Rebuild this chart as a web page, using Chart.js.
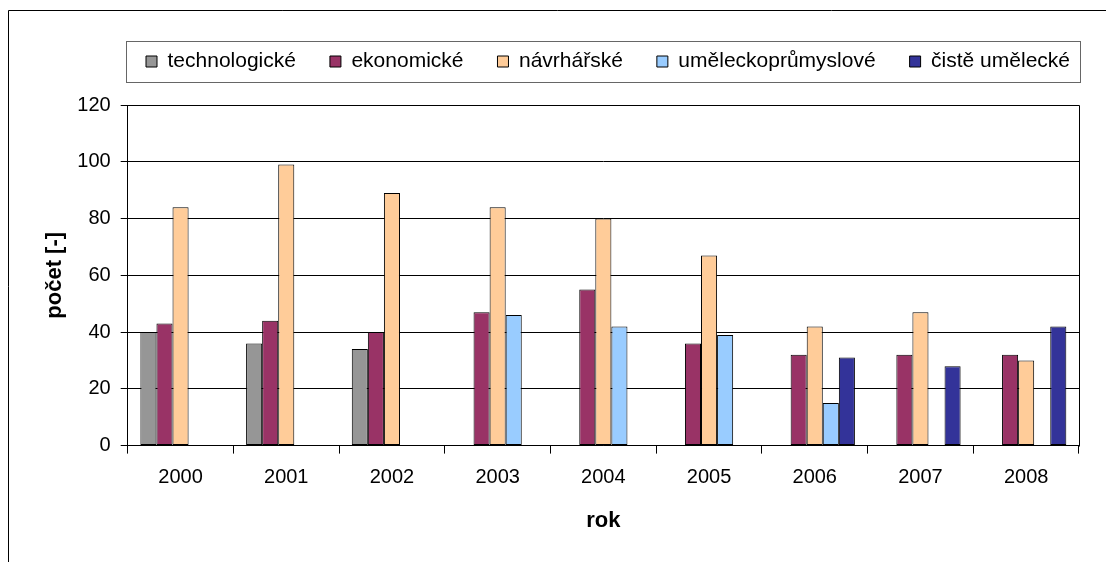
<!DOCTYPE html>
<html>
<head>
<meta charset="utf-8">
<script src="https://cdn.jsdelivr.net/npm/chart.js@4/dist/chart.umd.min.js"></script>
<style>
  html, body { margin: 0; padding: 0; background: #fff; }
  #wrap { width: 1106px; height: 562px; }
</style>
</head>
<body>
<div id="wrap"><canvas id="c" width="1106" height="562" style="width:1106px;height:562px"></canvas></div>
<script>
const years = ['2000','2001','2002','2003','2004','2005','2006','2007','2008'];
const technologicke = [40, 36, 34, null, null, null, null, null, null];
const ekonomicke = [43, 44, 40, 47, 55, 36, 32, 32, 32];
const navrharske = [84, 99, 89, 84, 80, 67, 42, 47, 30];
const umeleckoprumyslove = [null, null, null, 46, 42, 39, 15, null, null];
const ciste = [null, null, null, null, null, null, 31, 28, 42];
const yTicks = [0, 20, 40, 60, 80, 100, 120];

const FONT = "'Liberation Sans', Arial, sans-serif";

const framePlugin = {
  id: 'frame',
  afterInit(chart) {
    const lg = chart.legend;
    const origFit = lg.fit;
    lg.fit = function () { origFit.call(this); this.height += 23; };
  },
  afterLayout(chart) {
    const lg = chart.legend;
    lg.left = 110;
    lg.right = chart.width;
    lg.width = lg.right - lg.left;
  },
  beforeDraw(chart) {
    const ctx = chart.ctx;
    ctx.save();
    ctx.fillStyle = '#fff';
    ctx.fillRect(0, 0, chart.width, chart.height);
    ctx.restore();
  },
  afterDraw(chart) {
    const ctx = chart.ctx;
    const a = chart.chartArea;
    ctx.save();
    ctx.strokeStyle = '#000';
    ctx.lineWidth = 1;
    // outer frame
    ctx.beginPath();
    ctx.moveTo(8.5, chart.height);
    ctx.lineTo(8.5, 10.5);
    ctx.lineTo(chart.width, 10.5);
    ctx.stroke();
    // plot border right + top
    ctx.beginPath();
    ctx.moveTo(Math.round(a.left) + 0.5, Math.round(a.top) + 0.5);
    ctx.lineTo(Math.round(a.right) + 0.5, Math.round(a.top) + 0.5);
    ctx.lineTo(Math.round(a.right) + 0.5, Math.round(a.bottom) + 0.5);
    ctx.stroke();
    // legend box
    const hb = chart.legend.legendHitBoxes;
    if (hb && hb.length) {
      const cy = hb[0].top + hb[0].height / 2;
      ctx.strokeStyle = '#666';
      ctx.strokeRect(Math.round(a.left) - 1.5, Math.round(cy - 21) + 0.5, Math.round(a.right - a.left) + 3, 41);
    }
    ctx.restore();
  }
};

const ds = (label, data, color) => ({
  label, data,
  backgroundColor: color,
  borderColor: '#000',
  borderWidth: 1,
  borderSkipped: false,
  barPercentage: 1.0,
  categoryPercentage: 0.76
});

new Chart(document.getElementById('c'), {
  type: 'bar',
  data: {
    labels: years,
    datasets: [
      ds('technologické', technologicke, '#969696'),
      ds('ekonomické', ekonomicke, '#993366'),
      ds('návrhářské', navrharske, '#FFCC99'),
      ds('uměleckoprůmyslové', umeleckoprumyslove, '#99CCFF'),
      ds('čistě umělecké', ciste, '#333399')
    ]
  },
  options: {
    responsive: false,
    animation: false,
    devicePixelRatio: 1,
    layout: { padding: { left: 42, right: 27, top: 17, bottom: 28 } },
    plugins: {
      tooltip: { enabled: false },
      legend: {
        position: 'top',
        align: 'center',
        labels: {
          color: '#000',
          font: { family: FONT, size: 21 },
          boxWidth: 11,
          boxHeight: 11,
          padding: 34,
          generateLabels(chart) {
            return chart.data.datasets.map((d, i) => ({
              text: d.label,
              fillStyle: d.backgroundColor,
              strokeStyle: '#000',
              lineWidth: 1,
              fontColor: '#000',
              datasetIndex: i,
              hidden: false
            }));
          }
        }
      }
    },
    scales: {
      x: {
        grid: { display: true, drawOnChartArea: false, drawTicks: true, tickLength: 8, color: '#000', offset: true },
        border: { display: true, color: '#000' },
        ticks: { color: '#000', font: { family: FONT, size: 20 }, padding: 12 },
        title: { display: true, text: 'rok', color: '#000', font: { family: FONT, size: 22, weight: 'bold' }, padding: { top: 6, bottom: 0 } }
      },
      y: {
        min: 0, max: 120,
        afterBuildTicks(scale) { scale.ticks = yTicks.map(v => ({ value: v })); },
        afterFit(scale) { scale.width = 127.7 - 42; },
        grid: { color: '#000', tickLength: 7, drawTicks: true },
        border: { display: true, color: '#000' },
        ticks: { color: '#000', font: { family: FONT, size: 20 }, padding: 10 },
        title: { display: true, text: 'počet [-]', color: '#000', font: { family: FONT, size: 22, weight: 'bold' }, padding: { top: 0, bottom: 0 } }
      }
    }
  },
  plugins: [framePlugin]
});
</script>
</body>
</html>
